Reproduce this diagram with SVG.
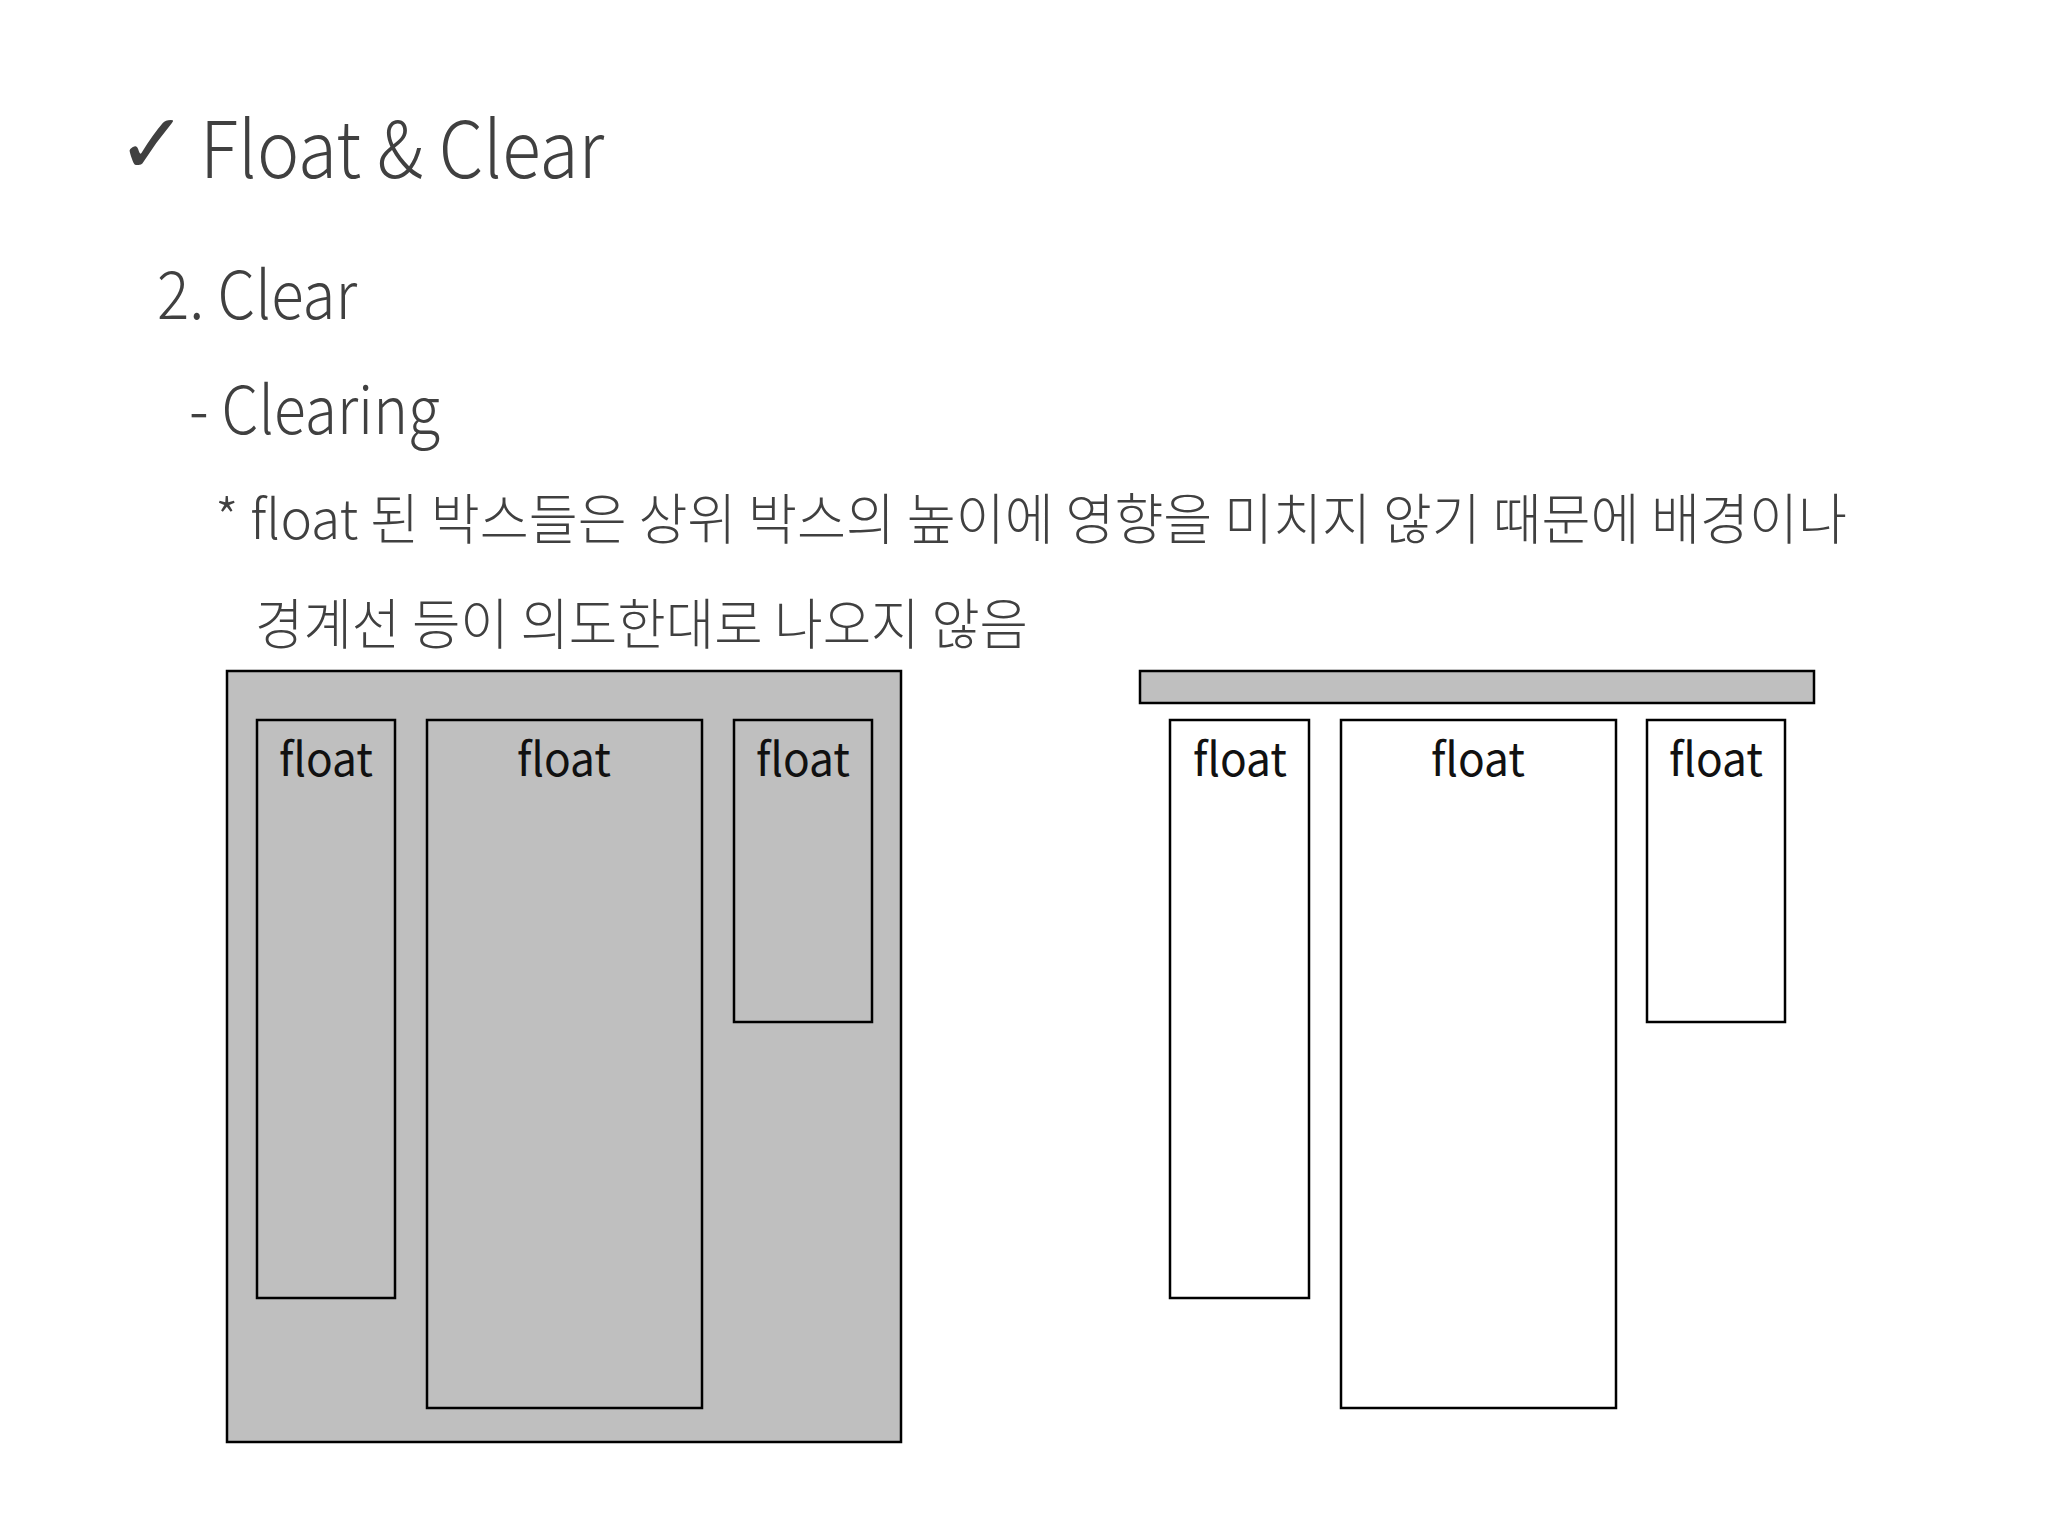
<svg xmlns="http://www.w3.org/2000/svg" width="2048" height="1536" viewBox="0 0 2048 1536">
<style>
.t{font-family:"Noto Sans CJK KR","Open Sans",sans-serif;fill:#404040;font-weight:300}
.box{stroke:#000;stroke-width:2.5}
.g{fill:#bfbfbf}
.w{fill:#fff}
.lbl{font-family:"Noto Sans CJK KR","Open Sans",sans-serif;font-size:46px;font-weight:400;fill:#111;text-anchor:middle}
</style>
<rect width="2048" height="1536" fill="#fff"/>
<g id="heading">
<text x="117" y="173" style="font-family:'DejaVu Sans',sans-serif;font-size:84px;font-weight:bold;fill:#404040">✓</text>
<text class="t" x="200" y="178" font-size="78" textLength="404" lengthAdjust="spacingAndGlyphs">Float &amp; Clear</text>
<text class="t" x="157" y="319" font-size="66" textLength="200" lengthAdjust="spacingAndGlyphs">2. Clear</text>
<text class="t" x="189" y="434" font-size="66" textLength="251" lengthAdjust="spacingAndGlyphs">- Clearing</text>
<text class="t" x="215" y="539" font-size="55" textLength="1632" lengthAdjust="spacingAndGlyphs">* float 된 박스들은 상위 박스의 높이에 영향을 미치지 않기 때문에 배경이나</text>
<text class="t" x="255" y="644" font-size="55" textLength="773" lengthAdjust="spacingAndGlyphs">경계선 등이 의도한대로 나오지 않음</text>
</g>
<g id="left-parent">
<rect class="box g" x="227" y="671" width="674" height="771"/>
</g>
<g id="left-float-1">
<rect class="box g" x="257" y="720" width="138" height="578"/>
<text class="lbl" x="326" y="776" textLength="94" lengthAdjust="spacingAndGlyphs">float</text>
</g>
<g id="left-float-2">
<rect class="box g" x="427" y="720" width="275" height="688"/>
<text class="lbl" x="564" y="776" textLength="94" lengthAdjust="spacingAndGlyphs">float</text>
</g>
<g id="left-float-3">
<rect class="box g" x="734" y="720" width="138" height="302"/>
<text class="lbl" x="803" y="776" textLength="94" lengthAdjust="spacingAndGlyphs">float</text>
</g>
<g id="right-parent">
<rect class="box g" x="1140" y="671" width="674" height="32"/>
</g>
<g id="right-float-1">
<rect class="box w" x="1170" y="720" width="139" height="578"/>
<text class="lbl" x="1240" y="776" textLength="94" lengthAdjust="spacingAndGlyphs">float</text>
</g>
<g id="right-float-2">
<rect class="box w" x="1341" y="720" width="275" height="688"/>
<text class="lbl" x="1478" y="776" textLength="94" lengthAdjust="spacingAndGlyphs">float</text>
</g>
<g id="right-float-3">
<rect class="box w" x="1647" y="720" width="138" height="302"/>
<text class="lbl" x="1716" y="776" textLength="94" lengthAdjust="spacingAndGlyphs">float</text>
</g>
<g id="connectors"></g>
</svg>
